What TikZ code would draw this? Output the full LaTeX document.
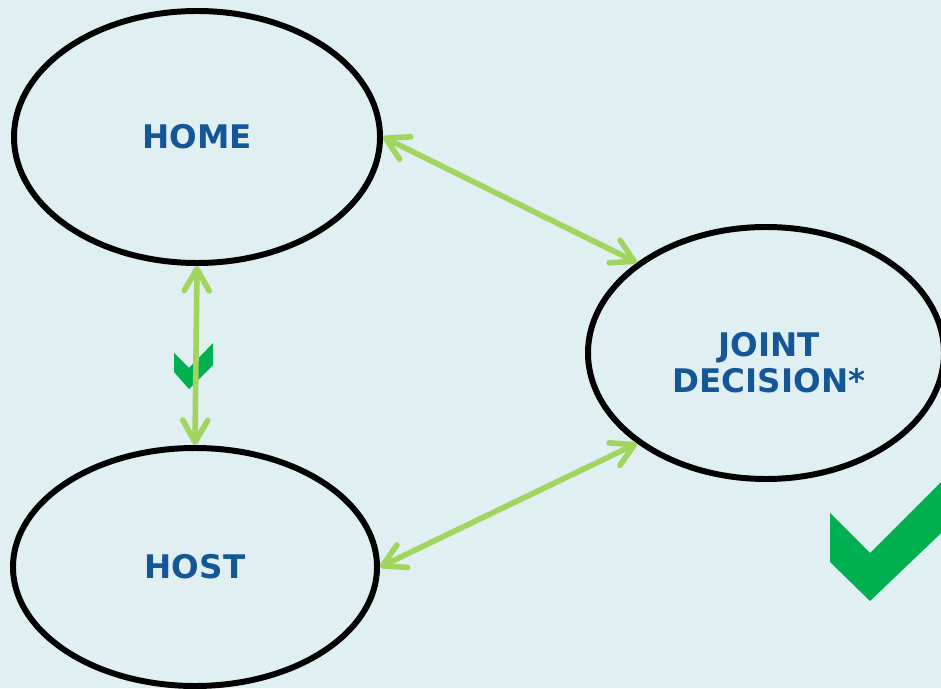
\documentclass[tikz,border=0pt]{standalone}
\usepackage{fontspec}
\setmainfont{DejaVu Sans}
\usepackage{tikz}
\usetikzlibrary{arrows.meta,shapes.geometric}
\definecolor{jdBack}{RGB}{224,239,242}
\definecolor{jdText}{RGB}{ 21, 86,151}
\definecolor{jdLink}{RGB}{160,214, 96}
\definecolor{jdTick}{RGB}{  0,176, 80}

\begin{document}
\begin{tikzpicture}[
  every node/.style={font=\bfseries\fontsize{18.5}{20.5}\selectfont},
  party/.style={draw=black,line width=3.4pt,ellipse,text=jdText,align=center,inner sep=0pt},
  link/.style={draw=jdLink,line width=3.2pt,line cap=round,
    {Straight Barb[length=4.4mm,width=5mm,round]}-{Straight Barb[length=4.4mm,width=5mm,round]}},
  tick/.style={fill=jdTick}
]
\fill[jdBack] (0,0) rectangle (18.82,13.76);
\clip (0,0) rectangle (18.82,13.76);

% the three parties
\node[party,minimum width=7.32cm,minimum height=5.04cm] (home)  at (3.94,11.02) {HOME};
\node[party,minimum width=7.28cm,minimum height=4.76cm] (host)  at (3.90,2.42)  {HOST};
\node[party,minimum width=7.12cm,minimum height=5.04cm] (joint) at (15.32,6.70) {};
\node[text=jdText,align=center] (jointtxt) at (15.38,6.50) {JOINT\\DECISION*};

% ticks
\fill[tick] (3.48,6.70) -- (3.78,6.40) -- (4.26,6.90) -- (4.26,6.46) -- (3.78,5.98) -- (3.48,6.32) -- cycle;
\fill[tick] (16.60,3.50) -- (17.40,2.70) -- (19.20,4.50) -- (19.20,3.46) -- (17.40,1.74) -- (16.60,2.52) -- cycle;

% links
\draw[link] (home.east)  -- (joint.145);
\draw[link] (home.south) -- (host.north);
\draw[link] (host.east)  -- (joint.215);
\end{tikzpicture}
\end{document}
